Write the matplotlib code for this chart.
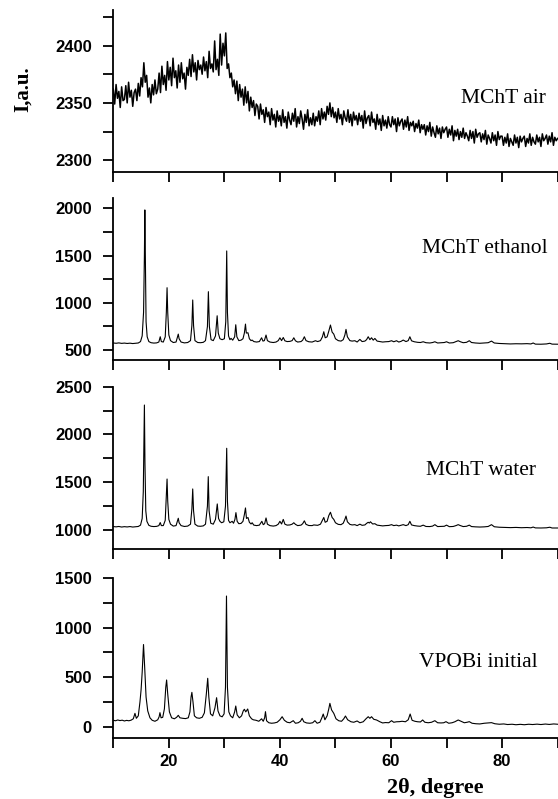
import numpy as np
import matplotlib
matplotlib.use("Agg")
import matplotlib.pyplot as plt

# ---- data ----
# MChT air: noisy amorphous pattern, 0.25 degree steps from 10 to 90
air_2theta = np.arange(10, 90.001, 0.25)
air_counts = [
    2362, 2349, 2366, 2354, 2360, 2346, 2364, 2352,
    2353, 2365, 2350, 2368, 2355, 2361, 2347, 2359,
    2362, 2352, 2367, 2356, 2372, 2364, 2385, 2368,
    2374, 2355, 2363, 2350, 2366, 2357, 2370, 2358,
    2362, 2376, 2359, 2382, 2366, 2374, 2361, 2386,
    2370, 2381, 2365, 2389, 2372, 2378, 2363, 2383,
    2368, 2385, 2371, 2376, 2362, 2381, 2374, 2388,
    2373, 2392, 2377, 2385, 2370, 2387, 2379, 2383,
    2375, 2390, 2378, 2386, 2372, 2395, 2380, 2384,
    2377, 2404, 2379, 2388, 2374, 2410, 2383, 2402,
    2391, 2411, 2380, 2384, 2372, 2376, 2364, 2370,
    2358, 2369, 2352, 2366, 2355, 2362, 2348, 2364,
    2350, 2360, 2343, 2355, 2346, 2352, 2339, 2349,
    2347, 2336, 2349, 2340, 2344, 2333, 2346, 2338,
    2342, 2331, 2345, 2335, 2340, 2329, 2343, 2334,
    2339, 2330, 2344, 2333, 2338, 2328, 2342, 2335,
    2331, 2341, 2334, 2345, 2329, 2338, 2332, 2343,
    2336, 2327, 2340, 2333, 2344, 2330, 2337, 2331,
    2341, 2330, 2338, 2334, 2343, 2331, 2345, 2336,
    2342, 2335, 2347, 2340, 2350, 2338, 2346, 2337,
    2342, 2333, 2345, 2336, 2340, 2331, 2343, 2337,
    2334, 2344, 2333, 2340, 2330, 2342, 2335, 2339,
    2331, 2341, 2334, 2339, 2328, 2343, 2332, 2337,
    2339, 2330, 2342, 2333, 2336, 2327, 2340, 2331,
    2336, 2326, 2339, 2330, 2335, 2328, 2338, 2331,
    2329, 2338, 2331, 2336, 2325, 2337, 2330, 2334,
    2336, 2327, 2335, 2329, 2338, 2326, 2333, 2330,
    2334, 2325, 2332, 2328, 2335, 2324, 2331, 2327,
    2331, 2322, 2330, 2325, 2333, 2321, 2329, 2324,
    2320, 2330, 2323, 2328, 2319, 2329, 2324, 2327,
    2329, 2320, 2327, 2322, 2330, 2317, 2326, 2321,
    2327, 2318, 2325, 2320, 2328, 2319, 2324, 2321,
    2317, 2326, 2319, 2325, 2315, 2327, 2320, 2323,
    2324, 2316, 2323, 2318, 2326, 2314, 2322, 2319,
    2315, 2324, 2317, 2322, 2313, 2325, 2318, 2321,
    2321, 2313, 2320, 2315, 2323, 2312, 2319, 2316,
    2313, 2322, 2315, 2320, 2311, 2321, 2316, 2319,
    2321, 2312, 2319, 2315, 2323, 2313, 2320, 2316,
    2314, 2322, 2316, 2320, 2312, 2323, 2317, 2319,
    2322, 2314, 2321, 2316, 2324, 2313, 2320, 2317,
    2319,
]

# MChT ethanol
eth_2theta = [
    10.0, 10.5, 11.0, 11.5, 12.0, 12.5, 13.0, 13.5, 14.0, 14.5, 14.9, 15.2, 15.45, 15.6, 15.68,
    15.78, 15.9, 16.1, 16.4, 16.8, 17.3, 17.8, 18.2, 18.45, 18.65, 19.0, 19.35, 19.55, 19.68,
    19.8, 20.0, 20.3, 20.8, 21.3, 21.55, 21.7, 21.85, 22.2, 22.8, 23.4, 23.9, 24.15, 24.3,
    24.45, 24.7, 25.2, 25.7, 26.2, 26.6, 26.95, 27.12, 27.3, 27.6, 28.0, 28.4, 28.7, 28.9,
    29.2, 29.6, 30.0, 30.25, 30.42, 30.55, 30.75, 31.0, 31.2, 31.5, 31.85, 32.05, 32.25, 32.6,
    33.0, 33.35, 33.6, 33.8, 33.95, 34.25, 34.5, 34.8, 35.0, 35.3, 35.8, 36.3, 36.7, 36.95,
    37.2, 37.5, 37.75, 38.2, 38.8, 39.3, 39.7, 40.0, 40.3, 40.6, 40.9, 41.3, 41.8, 42.2, 42.5,
    42.8, 43.2, 43.8, 44.1, 44.4, 44.7, 45.2, 45.8, 46.1, 46.4, 46.8, 47.3, 47.65, 47.9, 48.15,
    48.5, 48.8, 49.1, 49.4, 49.7, 50.0, 50.5, 51.0, 51.4, 51.7, 51.9, 52.15, 52.6, 53.0, 53.5,
    53.9, 54.4, 54.8, 55.3, 55.6, 55.9, 56.2, 56.5, 56.8, 57.1, 57.5, 58.0, 58.5, 59.0, 59.6,
    60.1, 60.5, 61.0, 61.4, 61.8, 62.2, 62.7, 63.1, 63.4, 63.7, 64.2, 64.8, 65.3, 65.8, 66.3,
    67.0, 67.5, 67.9, 68.4, 69.0, 69.6, 70.0, 70.5, 71.2, 71.7, 72.1, 72.5, 73.0, 73.6, 74.1,
    74.5, 75.2, 76.0, 76.8, 77.5, 78.1, 78.6, 79.5, 80.5, 81.5, 82.5, 83.5, 84.5, 85.2, 85.6,
    86.0, 87.0, 88.0, 88.6, 89.0, 90.0,
]
eth_counts = [
    575, 572, 576, 571, 574, 570, 573, 569, 572, 575, 590, 650, 900, 1500, 1983,
    1400, 800, 640, 590, 578, 574, 576, 585, 641, 590, 585, 640, 900, 1160,
    900, 660, 600, 580, 585, 640, 669, 620, 585, 576, 580, 600, 760, 1030,
    760, 600, 580, 578, 582, 600, 750, 1118, 750, 610, 600, 650, 863, 680,
    620, 610, 620, 800, 1549, 900, 650, 610, 624, 605, 640, 768, 640, 600,
    605, 620, 680, 775, 680, 683, 620, 600, 606, 590, 585, 590, 630, 595,
    600, 659, 600, 585, 580, 585, 600, 630, 600, 633, 598, 590, 592, 600, 630,
    598, 585, 590, 605, 641, 600, 588, 585, 592, 599, 590, 600, 640, 694, 630,
    640, 700, 765, 690, 669, 620, 600, 595, 610, 660, 719, 640, 600, 595, 599,
    585, 613, 590, 595, 610, 641, 610, 630, 605, 623, 595, 590, 585, 588, 590,
    599, 588, 599, 585, 592, 606, 590, 600, 641, 598, 588, 582, 580, 588, 578,
    575, 580, 588, 575, 578, 580, 588, 575, 578, 590, 599, 588, 578, 582, 599,
    580, 575, 572, 575, 578, 595, 575, 570, 568, 565, 567, 566, 568, 565, 575,
    563, 562, 565, 572, 563, 562,
]

# MChT water
wat_2theta = [
    10.0, 10.5, 11.0, 11.5, 12.0, 12.5, 13.0, 13.5, 14.0, 14.5, 14.9, 15.2, 15.4, 15.52, 15.6,
    15.7, 15.85, 16.05, 16.4, 16.8, 17.3, 17.8, 18.2, 18.45, 18.65, 19.0, 19.35, 19.55, 19.68,
    19.8, 20.0, 20.3, 20.8, 21.3, 21.55, 21.7, 21.85, 22.2, 22.8, 23.4, 23.9, 24.15, 24.3,
    24.45, 24.7, 25.2, 25.7, 26.2, 26.6, 26.95, 27.1, 27.25, 27.55, 28.0, 28.4, 28.72, 28.95,
    29.2, 29.5, 29.9, 30.2, 30.42, 30.55, 30.75, 31.0, 31.4, 31.65, 31.9, 32.08, 32.3, 32.6,
    33.0, 33.35, 33.6, 33.8, 33.98, 34.25, 34.5, 34.8, 35.0, 35.3, 35.8, 36.3, 36.75, 37.0,
    37.25, 37.5, 37.75, 38.2, 38.8, 39.3, 39.7, 40.0, 40.3, 40.6, 40.9, 41.3, 41.8, 42.2, 42.5,
    42.8, 43.2, 43.8, 44.1, 44.4, 44.7, 45.2, 45.8, 46.1, 46.4, 46.8, 47.3, 47.65, 47.9, 48.15,
    48.5, 48.8, 49.1, 49.4, 49.7, 50.0, 50.5, 51.0, 51.4, 51.7, 51.9, 52.15, 52.6, 53.0, 53.5,
    53.9, 54.4, 54.8, 55.3, 55.6, 55.9, 56.1, 56.3, 56.7, 57.1, 57.5, 58.0, 58.5, 59.0, 59.6,
    60.1, 60.5, 61.0, 61.4, 61.8, 62.2, 62.7, 63.1, 63.4, 63.7, 64.2, 64.8, 65.3, 65.8, 66.3,
    67.0, 67.5, 67.9, 68.4, 69.0, 69.6, 70.0, 70.5, 71.2, 71.7, 72.1, 72.5, 73.0, 73.6, 74.1,
    74.5, 75.2, 76.0, 76.8, 77.5, 78.1, 78.6, 79.5, 80.5, 81.5, 82.5, 83.5, 84.5, 85.2, 85.6,
    86.0, 87.0, 88.0, 88.6, 89.0, 90.0,
]
wat_counts = [
    1035, 1032, 1036, 1030, 1034, 1031, 1035, 1030, 1033, 1036, 1050, 1120, 1400, 1900, 2308,
    1700, 1200, 1090, 1048, 1038, 1035, 1037, 1045, 1077, 1045, 1045, 1100, 1350, 1533,
    1300, 1110, 1060, 1040, 1045, 1095, 1122, 1075, 1045, 1036, 1040, 1060, 1220, 1429,
    1200, 1060, 1040, 1038, 1042, 1060, 1250, 1558, 1200, 1070, 1060, 1110, 1272, 1120,
    1090, 1075, 1085, 1250, 1855, 1300, 1100, 1075, 1090, 1070, 1110, 1181, 1090, 1065,
    1068, 1090, 1160, 1230, 1120, 1130, 1080, 1062, 1075, 1050, 1045, 1050, 1090, 1055,
    1065, 1125, 1060, 1045, 1040, 1045, 1060, 1090, 1062, 1110, 1060, 1050, 1052, 1060, 1075,
    1058, 1045, 1050, 1065, 1095, 1058, 1046, 1045, 1052, 1050, 1048, 1060, 1100, 1130, 1080,
    1090, 1150, 1185, 1130, 1110, 1075, 1058, 1055, 1070, 1110, 1145, 1085, 1058, 1052, 1055,
    1045, 1060, 1048, 1052, 1068, 1080, 1072, 1085, 1062, 1065, 1050, 1046, 1042, 1045, 1047,
    1055, 1045, 1050, 1042, 1048, 1055, 1045, 1055, 1090, 1052, 1045, 1040, 1038, 1050, 1036,
    1035, 1040, 1055, 1035, 1036, 1038, 1050, 1034, 1036, 1045, 1055, 1045, 1035, 1038, 1050,
    1035, 1032, 1030, 1032, 1036, 1055, 1033, 1028, 1026, 1024, 1026, 1023, 1025, 1022, 1030,
    1021, 1020, 1022, 1028, 1020, 1020,
]

# VPOBi initial
vpo_2theta = [
    10.0, 10.4, 10.8, 11.2, 11.6, 12.0, 12.4, 12.8, 13.2, 13.6, 13.9, 14.15, 14.5, 14.8, 15.0,
    15.2, 15.44, 15.65, 15.9, 16.2, 16.6, 17.0, 17.5, 18.0, 18.25, 18.4, 18.6, 18.9, 19.2,
    19.45, 19.6, 19.8, 20.1, 20.5, 21.0, 21.4, 21.7, 22.0, 22.5, 23.0, 23.5, 23.8, 24.0,
    24.15, 24.35, 24.6, 25.0, 25.5, 26.0, 26.4, 26.75, 27.0, 27.2, 27.5, 27.9, 28.3, 28.6,
    28.85, 29.2, 29.6, 29.95, 30.2, 30.38, 30.55, 30.8, 31.1, 31.5, 31.85, 32.05, 32.3, 32.7,
    33.1, 33.4, 33.6, 33.85, 34.2, 34.5, 34.9, 35.2, 35.7, 36.2, 36.7, 37.0, 37.25, 37.4,
    37.6, 38.0, 38.5, 39.0, 39.5, 40.0, 40.4, 40.8, 41.3, 41.8, 42.4, 42.8, 43.3, 43.7, 44.0,
    44.3, 44.8, 45.4, 45.9, 46.3, 46.7, 47.2, 47.55, 47.8, 48.1, 48.5, 48.8, 49.0, 49.3, 49.7,
    50.1, 50.6, 51.1, 51.5, 51.8, 52.2, 52.8, 53.3, 53.9, 54.4, 55.0, 55.5, 55.9, 56.2, 56.5,
    56.9, 57.4, 58.0, 58.5, 59.0, 59.6, 60.1, 60.5, 61.0, 61.5, 62.0, 62.6, 63.1, 63.45, 63.8,
    64.3, 64.8, 65.3, 65.7, 66.1, 66.7, 67.3, 67.9, 68.4, 69.0, 69.5, 69.9, 70.4, 71.0, 71.5,
    72.1, 72.6, 73.2, 73.7, 74.1, 74.6, 75.3, 76.0, 76.8, 77.5, 78.1, 78.7, 79.5, 80.3, 81.0,
    81.8, 82.5, 83.3, 84.0, 84.8, 85.5, 86.3, 87.0, 87.8, 88.5, 89.3, 90.0,
]
vpo_counts = [
    65, 60, 68, 62, 66, 58, 64, 60, 66, 80, 135, 85, 110, 250, 371,
    550, 830, 600, 300, 160, 90, 65, 55, 70, 100, 142, 90, 95, 180,
    400, 472, 330, 150, 90, 80, 95, 115, 90, 85, 82, 90, 150, 300,
    347, 250, 110, 90, 85, 95, 140, 330, 489, 300, 130, 110, 190, 293,
    160, 110, 100, 130, 400, 1320, 400, 150, 110, 90, 150, 209, 120, 90,
    110, 160, 176, 150, 179, 110, 80, 70, 65, 55, 80, 55, 90, 152,
    60, 40, 35, 38, 45, 70, 101, 65, 45, 40, 61, 35, 40, 55, 85,
    50, 38, 35, 40, 61, 35, 45, 90, 128, 70, 110, 180, 236, 170, 135,
    80, 60, 55, 80, 108, 70, 50, 45, 58, 40, 50, 80, 101, 85, 101,
    75, 68, 50, 38, 42, 40, 61, 45, 50, 51, 55, 50, 70, 128, 65,
    55, 50, 48, 68, 45, 40, 45, 61, 40, 38, 40, 51, 35, 40, 50,
    68, 55, 40, 45, 51, 35, 30, 28, 35, 38, 41, 30, 25, 28, 22,
    25, 20, 24, 20, 25, 22, 26, 22, 27, 23, 28, 25,
]

sample_names = ["MChT air", "MChT ethanol", "MChT water", "VPOBi initial"]

x_ticks = [10, 20, 30, 40, 50, 60, 70, 80, 90]
x_ticklabels = ["", "20", "", "40", "", "60", "", "80", ""]

y_ticks = [
    [2300, 2325, 2350, 2375, 2400, 2425],
    [500, 750, 1000, 1250, 1500, 1750, 2000],
    [1000, 1250, 1500, 1750, 2000, 2250, 2500],
    [0, 250, 500, 750, 1000, 1250, 1500],
]
y_ticklabels = [
    ["2300", "", "2350", "", "2400", ""],
    ["500", "", "1000", "", "1500", "", "2000"],
    ["1000", "", "1500", "", "2000", "", "2500"],
    ["0", "", "500", "", "1000", "", "1500"],
]
y_limits = [(2290, 2431), (395, 2106), (800, 2500), (-117, 1502)]

series_x = [air_2theta, eth_2theta, wat_2theta, vpo_2theta]
series_y = [air_counts, eth_counts, wat_counts, vpo_counts]

# ---- layout ----
W, H = 558, 799
fig = plt.figure(figsize=(W / 100, H / 100), dpi=100)

# panel top / bottom in pixels
panel_px = [(10, 171.7), (198.3, 360), (386.7, 549), (578, 738.3)]
left_px, right_px = 113.3, 557.6
# label positions (right edge fraction, baseline fraction)
label_pos = [(0.974, 0.425), (0.977, 0.662), (0.952, 0.456), (0.956, 0.447)]

tick_font = {"family": "Liberation Sans", "weight": "bold", "size": 12}

for i in range(4):
    top, bot = panel_px[i]
    ax = fig.add_axes([left_px / W, 1 - bot / H, (right_px - left_px) / W, (bot - top) / H])
    lw = 1.1 if i == 0 else 0.8
    ax.plot(series_x[i], series_y[i], color="black", linewidth=lw)

    ax.set_xlim(10, 90)
    ax.set_ylim(*y_limits[i])

    for s in ["top", "right"]:
        ax.spines[s].set_visible(False)
    for s in ["left", "bottom"]:
        ax.spines[s].set_linewidth(1.3)

    ax.set_xticks(x_ticks)
    if i == 3:
        ax.set_xticklabels(x_ticklabels, fontdict=tick_font)
    else:
        ax.set_xticklabels([])
    ax.set_yticks(y_ticks[i])
    ax.set_yticklabels(y_ticklabels[i], fontdict=tick_font)
    ax.tick_params(axis="both", direction="out", length=7, width=1.3)
    ax.tick_params(axis="y", pad=8.5)
    ax.tick_params(axis="x", pad=4.5)

    rx, by = label_pos[i]
    ax.text(rx, by, sample_names[i], transform=ax.transAxes, ha="right", va="baseline",
            family="Liberation Serif", fontsize=15.5)

fig.text(23 / W, 1 - 89 / H, "I,a.u.", rotation=90, ha="center", va="center",
         family="Liberation Serif", weight="bold", fontsize=15)
fig.text(435 / W, 1 - 788 / H, "2\u03b8, degree", ha="center", va="center",
         family="Liberation Serif", weight="bold", fontsize=16)

fig.savefig("out.png", dpi=100)
